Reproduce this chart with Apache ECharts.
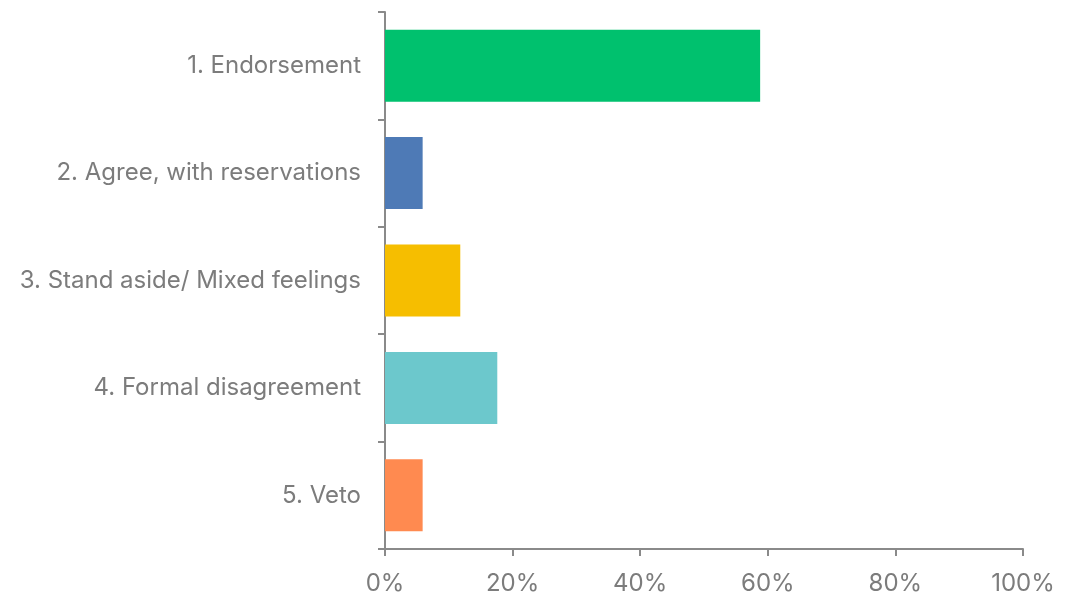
<!DOCTYPE html>
<html>
<head>
<meta charset="utf-8">
<script src="https://cdn.jsdelivr.net/npm/echarts@6/dist/echarts.min.js"></script>
<style>
  html, body { margin: 0; padding: 0; background: #ffffff; }
  #chart { width: 1081px; height: 596px; }
</style>
</head>
<body>
<div id="chart"></div>
<script>
// Response categories, top to bottom
const categories = [
  '1. Endorsement',
  '2. Agree, with reservations',
  '3. Stand aside/ Mixed feelings',
  '4. Formal disagreement',
  '5. Veto'
];
// Share of responses (percent)
const shares = [58.8, 5.9, 11.8, 17.6, 5.9];
// Bar fill per category
const barColors = ['#00C16E', '#4E7AB6', '#F6BE00', '#6CC8CC', '#FF8A50'];
// Value axis tick labels
const xTicks = ['0%', '20%', '40%', '60%', '80%', '100%'];

const axisGray = '#8a8a8a';
const textGray = '#7c7c7c';
const fontFamily = 'Inter, "Noto Sans", sans-serif';

const chart = echarts.init(document.getElementById('chart'));
chart.setOption({
  animation: false,
  grid: { left: 385, right: 58, top: 12, bottom: 47, containLabel: false },
  xAxis: {
    type: 'value',
    min: 0,
    max: 100,
    interval: 20,
    splitLine: { show: false },
    axisLine: { show: true, lineStyle: { color: axisGray, width: 2 } },
    axisTick: { show: true, length: 7, lineStyle: { color: axisGray, width: 2 } },
    axisLabel: {
      margin: 23,
      color: textGray,
      fontSize: 24,
      fontFamily: fontFamily
    }
  },
  yAxis: {
    type: 'category',
    inverse: true,
    data: categories,
    axisLine: { show: true, lineStyle: { color: axisGray, width: 2 } },
    axisTick: { show: true, length: 7, lineStyle: { color: axisGray, width: 2 } },
    axisLabel: {
      margin: 24,
      color: textGray,
      fontSize: 24,
      fontFamily: fontFamily
    }
  },
  series: [{
    type: 'bar',
    barCategoryGap: '33%',
    data: shares.map((v, i) => ({ value: v, itemStyle: { color: barColors[i] } }))
  }]
});
chart.setOption({
  xAxis: { axisLabel: { formatter: v => xTicks[Math.round(v / 20)] } }
});
</script>
</body>
</html>
